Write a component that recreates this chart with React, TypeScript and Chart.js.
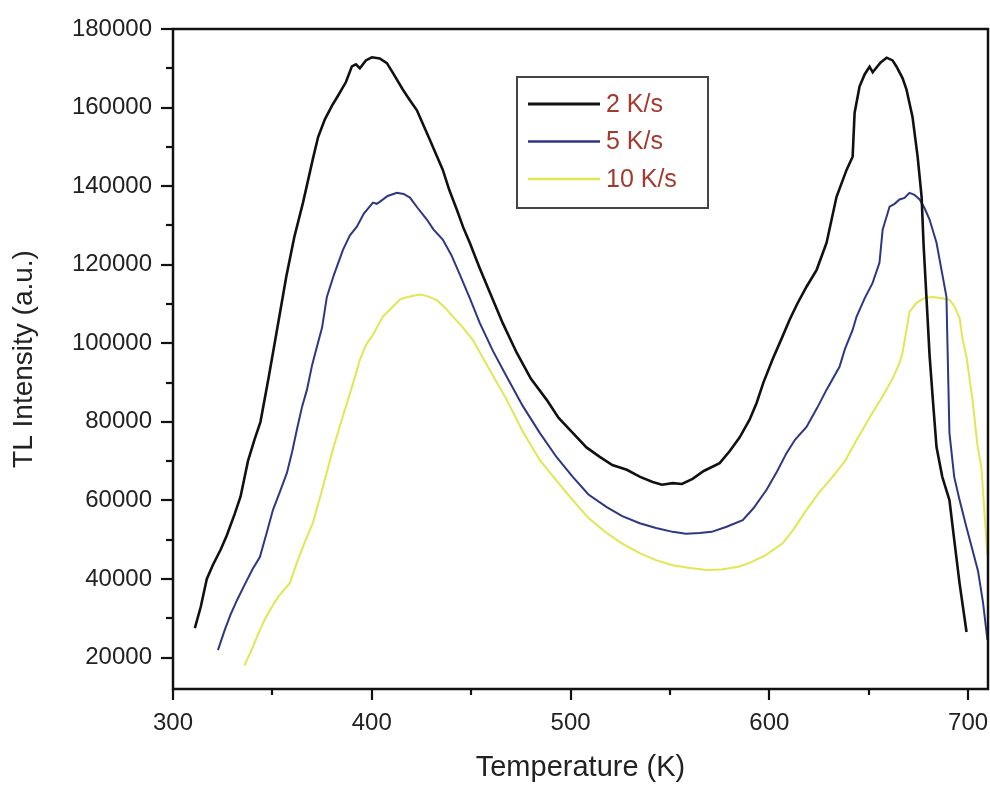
import React, { useEffect, useRef } from "react";
import { Chart, registerables } from "chart.js";

Chart.register(...registerables);

// ---- Data ----
const seriesLabels = ["2 K/s", "5 K/s", "10 K/s"];
const seriesColors = ["#111111", "#2d3782", "#e3e552"];
const seriesWidths = [2.6, 2, 2];

const temp2 = [311, 314, 317, 320, 324, 327, 331, 334, 337.7, 341, 344, 348, 352, 357, 361, 365.4, 370.4, 373, 376.4, 380, 383, 387, 390, 392, 394, 397, 400, 404, 407.6, 411, 415.6, 419, 422.7, 426, 429.2, 432, 435.7, 439, 442.8, 446, 449.3, 454, 459.4, 466, 472.9, 480, 488, 494, 501.1, 508, 514.7, 521, 528.3, 535, 541.3, 546, 551.4, 556, 561.4, 567, 575, 580, 585, 590, 593.6, 597, 601.7, 606, 610.2, 614, 618.7, 623.8, 628.8, 633.8, 638.9, 641.9, 642.9, 645.4, 648, 650.4, 652, 653.9, 656, 659, 662, 664, 667, 669, 672, 674.6, 676.6, 677.6, 679.1, 680.6, 682.5, 684.1, 687, 690.6, 693, 695.7, 699.2];
const intensity2 = [27500, 33000, 40000, 43500, 47500, 51000, 56500, 61000, 70000, 75500, 80000, 91000, 102500, 117000, 127000, 135800, 147000, 152500, 157000, 160500, 163000, 166500, 170500, 171000, 170000, 172000, 172800, 172500, 171300, 168500, 164600, 162000, 159300, 155500, 151800, 148500, 144200, 139000, 134000, 129500, 125600, 119500, 112900, 105000, 97600, 91000, 85600, 81000, 77200, 73500, 71100, 69000, 67800, 66000, 64700, 64000, 64400, 64200, 65500, 67500, 69500, 72500, 76000, 80500, 84800, 90000, 96000, 101000, 106000, 110000, 114400, 118700, 125600, 137300, 144200, 147500, 158700, 165400, 168500, 170400, 169000, 170200, 171500, 172700, 172000, 170400, 167500, 164600, 157700, 147500, 137300, 125000, 111100, 97000, 84000, 73600, 66000, 60100, 50000, 38900, 26500];

const temp5 = [322.6, 326, 329, 332.2, 336, 340, 343.7, 347, 350.3, 354, 357.3, 360, 362.3, 365, 367.4, 370, 372.4, 375, 377.4, 381, 385.5, 389, 392.5, 396, 400.6, 402.5, 404, 408, 412.6, 416, 419.2, 423, 427.7, 431, 435.7, 440, 444.3, 449.3, 454.3, 461, 467.9, 476, 484.5, 493, 501.1, 509, 518.2, 526, 534.8, 543, 551.4, 558, 564.9, 571, 578.5, 586.6, 592, 598.6, 604, 608.7, 613, 618.7, 624, 628.8, 635.3, 638, 641.9, 643.9, 648, 651.9, 655.4, 657, 660.5, 663, 665.5, 668, 670.5, 673, 675.6, 678, 680.6, 684.1, 686.6, 689.1, 689.6, 690.6, 693, 695.7, 699, 702.2, 705, 707.5, 709.7];
const intensity5 = [21900, 27000, 31000, 34600, 38500, 42500, 45600, 51500, 57600, 62500, 67000, 72500, 78000, 84000, 88200, 94500, 99100, 104000, 111800, 117500, 123800, 127500, 129700, 133000, 135800, 135500, 136000, 137500, 138300, 138000, 137100, 134500, 131500, 129000, 126400, 122500, 117500, 111500, 105200, 98000, 91500, 84000, 77200, 71000, 66000, 61500, 58300, 56000, 54200, 53000, 52000, 51500, 51700, 52000, 53300, 55000, 58000, 62700, 67500, 72100, 75500, 78700, 83500, 88200, 94000, 98500, 103400, 106800, 111500, 115300, 120500, 128900, 134800, 135500, 136600, 137000, 138300, 137800, 136600, 134500, 131500, 125600, 118700, 111800, 100000, 77200, 66000, 60100, 53500, 47400, 42000, 34000, 24500];

const temp10 = [336, 340, 343.7, 346, 348.8, 353, 358.8, 362.3, 366, 370.4, 375.4, 380.4, 384, 387.5, 391, 394, 397, 400.6, 405.6, 410, 414.1, 418, 424.2, 428, 432.7, 437, 440.8, 445, 450.8, 459, 467.9, 476, 484.5, 493, 501.1, 509, 518.2, 526, 534.8, 543, 551.4, 560, 568.5, 576, 585, 590, 598, 606.7, 612, 618.7, 625, 631.8, 638, 643.9, 651.9, 657, 662, 665.5, 667, 669, 670.5, 674, 678, 682.1, 686, 690.6, 693, 695.7, 697.2, 699.2, 702.2, 704.7, 706.7, 708.2, 709.7];
const intensity10 = [18000, 22500, 27000, 29500, 32100, 35500, 39000, 44100, 49000, 54300, 63400, 72900, 79000, 84800, 90500, 95800, 99500, 102200, 106800, 109000, 111100, 111800, 112400, 112000, 111000, 109000, 106800, 104500, 100900, 93500, 85600, 77500, 70300, 65000, 60100, 55500, 51700, 49000, 46600, 44800, 43500, 42800, 42300, 42400, 43200, 44100, 46000, 49100, 52500, 57600, 62000, 66000, 70000, 75400, 82300, 86500, 91000, 95000, 97600, 103400, 108000, 110300, 111500, 111800, 111500, 111100, 109500, 106500, 101000, 96500, 85600, 74000, 68500, 57000, 46000];

const xMajorTicks = [300, 400, 500, 600, 700];
const xMinorTicks = [350, 450, 550, 650];
const yMajorTicks = [20000, 40000, 60000, 80000, 100000, 120000, 140000, 160000, 180000];
const yMinorTicks = [30000, 50000, 70000, 90000, 110000, 130000, 150000, 170000];

const xTitle = "Temperature (K)";
const yTitle = "TL Intensity (a.u.)";

const FONT = '"Liberation Sans", Arial, Helvetica, sans-serif';

const toPoints = (xs: number[], ys: number[]) => xs.map((x, i) => ({ x, y: ys[i] }));

const zeroPad = (s: any) => {
  s.paddingLeft = 0;
  s.paddingRight = 0;
  s.paddingTop = 0;
  s.paddingBottom = 0;
};

const framePlugin = {
  id: "frameAndTicks",
  afterDraw(chart: any) {
    const { ctx, chartArea, scales } = chart;
    const xs = scales.x;
    const ys = scales.y;
    ctx.save();
    ctx.strokeStyle = "#111";
    ctx.lineWidth = 2.5;
    ctx.strokeRect(chartArea.left, chartArea.top, chartArea.right - chartArea.left, chartArea.bottom - chartArea.top);
    ctx.lineWidth = 2.2;
    const drawX = (vals: number[], len: number) => {
      vals.forEach((v) => {
        const px = Math.round(xs.getPixelForValue(v));
        ctx.beginPath();
        ctx.moveTo(px, chartArea.bottom);
        ctx.lineTo(px, chartArea.bottom + len);
        ctx.stroke();
      });
    };
    const drawY = (vals: number[], len: number) => {
      vals.forEach((v) => {
        const py = Math.round(ys.getPixelForValue(v));
        ctx.beginPath();
        ctx.moveTo(chartArea.left, py);
        ctx.lineTo(chartArea.left - len, py);
        ctx.stroke();
      });
    };
    drawX(xMajorTicks, 11);
    drawX(xMinorTicks, 6);
    drawY(yMajorTicks, 12);
    drawY(yMinorTicks, 7);

    // legend
    const bx = chartArea.left + 344;
    const by = chartArea.top + 48;
    const bw = 191;
    const bh = 131;
    ctx.strokeStyle = "#444";
    ctx.lineWidth = 2;
    ctx.strokeRect(bx, by, bw, bh);
    ctx.font = `25px ${FONT}`;
    ctx.textBaseline = "middle";
    ctx.textAlign = "left";
    chart.data.datasets.forEach((ds: any, i: number) => {
      const y = by + 27 + i * 37.5;
      ctx.strokeStyle = ds.borderColor;
      ctx.lineWidth = ds.borderWidth + 0.5;
      ctx.beginPath();
      ctx.moveTo(bx + 11, y);
      ctx.lineTo(bx + 83, y);
      ctx.stroke();
      ctx.fillStyle = "#a5392e";
      ctx.fillText(ds.label, bx + 89, y + 1);
    });
    ctx.restore();
  },
};

export default function App() {
  const canvasRef = useRef<HTMLCanvasElement | null>(null);

  useEffect(() => {
    document.body.style.margin = "0";
    document.body.style.overflow = "hidden";
    if (!canvasRef.current) return;
    const chart = new Chart(canvasRef.current, {
      type: "line",
      data: {
        datasets: [
          { label: seriesLabels[0], data: toPoints(temp2, intensity2), borderColor: seriesColors[0], borderWidth: seriesWidths[0] },
          { label: seriesLabels[1], data: toPoints(temp5, intensity5), borderColor: seriesColors[1], borderWidth: seriesWidths[1] },
          { label: seriesLabels[2], data: toPoints(temp10, intensity10), borderColor: seriesColors[2], borderWidth: seriesWidths[2] },
        ].map((d) => ({ ...d, pointRadius: 0, fill: false, tension: 0, backgroundColor: d.borderColor })),
      },
      options: {
        animation: false,
        responsive: false,
        maintainAspectRatio: false,
        layout: { padding: { left: 0, right: 2, top: 29, bottom: 0 } },
        plugins: { legend: { display: false }, tooltip: { enabled: false } },
        scales: {
          x: {
            type: "linear",
            min: 300,
            max: 710,
            afterBuildTicks: (s: any) => {
              s.ticks = xMajorTicks.map((v) => ({ value: v }));
            },
            afterFit: (s: any) => {
              s.height = 96;
              zeroPad(s);
            },
            grid: { display: false, drawTicks: false },
            border: { display: false },
            ticks: {
              padding: 20,
              color: "#222",
              font: { family: FONT, size: 24 },
              maxRotation: 0,
              autoSkip: false,
            },
            title: {
              display: true,
              text: xTitle,
              color: "#222",
              font: { family: FONT, size: 29 },
              padding: { top: 0, bottom: 0 },
            },
          },
          y: {
            type: "linear",
            min: 12000,
            max: 180000,
            afterBuildTicks: (s: any) => {
              s.ticks = yMajorTicks.map((v) => ({ value: v }));
            },
            afterFit: (s: any) => {
              s.width = 173;
              zeroPad(s);
            },
            grid: { display: false, drawTicks: false },
            border: { display: false },
            ticks: {
              padding: 21,
              color: "#222",
              font: { family: FONT, size: 24 },
              autoSkip: false,
              callback: (v: any) => String(v),
            },
            title: {
              display: true,
              text: yTitle,
              color: "#222",
              font: { family: FONT, size: 28 },
              padding: { top: 7, bottom: 0 },
            },
          },
        },
      },
      plugins: [framePlugin],
    });
    return () => chart.destroy();
  }, []);

  return (
    <div style={{ position: "absolute", left: 0, top: 0, width: 990, height: 785, overflow: "hidden", background: "#fff" }}>
      <canvas ref={canvasRef} width={990} height={785} style={{ display: "block", width: 990, height: 785 }} />
    </div>
  );
}
